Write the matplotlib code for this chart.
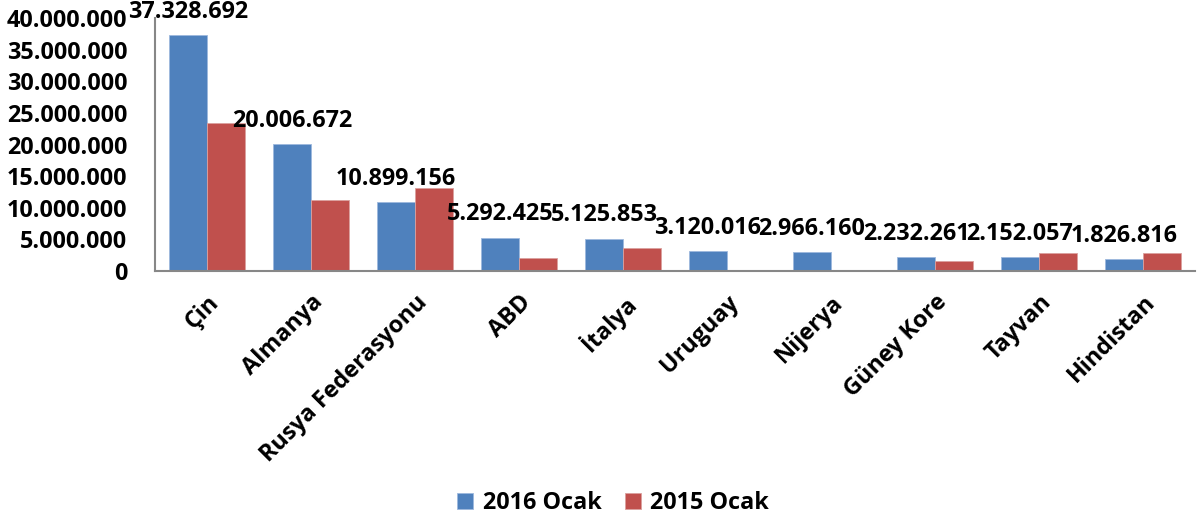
import matplotlib
matplotlib.use("Agg")
import matplotlib.pyplot as plt
import numpy as np

categories = ["Çin", "Almanya", "Rusya Federasyonu", "ABD", "İtalya", "Uruguay",
              "Nijerya", "Güney Kore", "Tayvan", "Hindistan"]
ocak_2016 = [37328692, 20006672, 10899156, 5292425, 5125853, 3120016,
             2966160, 2232261, 2152057, 1826816]
ocak_2015 = [23400000, 11200000, 13100000, 2000000, 3700000, 0,
             0, 1550000, 2800000, 2900000]
labels_2016 = ["37.328.692", "20.006.672", "10.899.156", "5.292.425", "5.125.853",
               "3.120.016", "2.966.160", "2.232.261", "2.152.057", "1.826.816"]
series_names = ["2016 Ocak", "2015 Ocak"]
yticks = [0, 5000000, 10000000, 15000000, 20000000, 25000000, 30000000, 35000000, 40000000]

plt.rcParams['font.family'] = ['Open Sans', 'DejaVu Sans']
plt.rcParams['font.weight'] = 'bold'
FS = 16.8

fig = plt.figure(figsize=(12.01, 5.25), dpi=100)
ax = fig.add_axes([155/1201, (525-271)/525, (1195-155)/1201, (271-18)/525])

x = np.arange(len(categories))
w = 0.365
b1 = ax.bar(x - w/2, ocak_2016, w, color="#4F81BD", edgecolor="#9DB8DD", linewidth=0.6, label=series_names[0])
b2 = ax.bar(x + w/2, ocak_2015, w, color="#C0504D", edgecolor="#DBA09E", linewidth=0.6, label=series_names[1])

for xi, v, t in zip(x, ocak_2016, labels_2016):
    ax.annotate(t, (xi - w/2, v), xytext=(0, 8), textcoords="offset points",
                ha="center", va="bottom", fontsize=FS, fontweight="bold", color="black")

ax.set_xlim(-0.5, len(categories) - 0.5)
ax.set_ylim(0, 40000000)
ax.set_yticks(yticks)
ax.set_yticklabels([f"{v:,}".replace(",", ".") for v in yticks], fontsize=FS, fontweight="bold")
ax.set_xticks(x)
ax.set_xticklabels(categories, rotation=45, ha="right", rotation_mode="anchor",
                   fontsize=FS, fontweight="bold")
ax.tick_params(axis="y", length=0, pad=20)
ax.tick_params(axis="x", length=0, pad=14)
for s in ["top", "right"]:
    ax.spines[s].set_visible(False)
for s in ["left", "bottom"]:
    ax.spines[s].set_color("#878787")
    ax.spines[s].set_linewidth(1.5)

fig.legend(handles=[b1, b2], labels=series_names, loc="center", bbox_to_anchor=(613/1201, 1 - 503/525),
           ncol=2, frameon=False, handlelength=0.7, handleheight=0.7,
           handletextpad=0.4, columnspacing=1.0, prop={'weight': 'bold', 'size': FS})

fig.savefig("out.png", dpi=100)
